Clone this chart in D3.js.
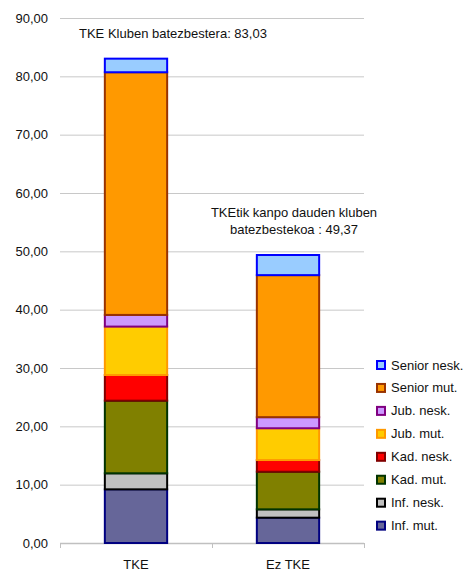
<!DOCTYPE html>
<html>
<head>
<meta charset="utf-8">
<script src="https://cdn.jsdelivr.net/npm/d3@7/dist/d3.min.js"></script>
<style>
  html, body { margin: 0; padding: 0; background: #fff; }
  svg { display: block; font-family: "Liberation Sans", Arial, sans-serif; }
</style>
</head>
<body>
<svg id="chart" width="469" height="572"></svg>
<script>
// ---- data ----
const categories = ["TKE", "Ez TKE"];
const seriesNames = ["Inf. mut.", "Inf. nesk.", "Kad. mut.", "Kad. nesk.", "Jub. mut.", "Jub. nesk.", "Senior mut.", "Senior nesk."];
const infMut     = [9.20, 4.34];
const infNesk    = [2.75, 1.43];
const kadMut     = [12.45, 6.45];
const kadNesk    = [4.40, 2.00];
const jubMut     = [8.30, 5.45];
const jubNesk    = [2.00, 1.90];
const seniorMut  = [41.60, 24.35];
const seniorNesk = [2.33, 3.45];
const yTicks = [0, 10, 20, 30, 40, 50, 60, 70, 80, 90];
const fills   = ["#666699", "#C0C0C0", "#808000", "#FF0000", "#FFCC00", "#CC99FF", "#FF9900", "#99CCFF"];
const strokes = ["#000080", "#000000", "#003300", "#800000", "#FF9900", "#800080", "#993300", "#0000FF"];
const annotation1 = ["TKE Kluben batezbestera: 83,03"];
const annotation2 = ["TKEtik kanpo dauden kluben", "batezbestekoa : 49,37"];

const seriesValues = [infMut, infNesk, kadMut, kadNesk, jubMut, jubNesk, seniorMut, seniorNesk];
const rows = categories.map((c, i) => {
  const r = { cat: c };
  seriesNames.forEach((s, j) => r[s] = seriesValues[j][i]);
  return r;
});

// ---- layout ----
const svg = d3.select("#chart");
const pLeft = 60, pRight = 364, pTop = 18, pBottom = 543;

const x = d3.scaleBand().domain(categories).range([pLeft, pRight])
  .paddingInner(0.59).paddingOuter(0.295);
const y = d3.scaleLinear().domain([0, 90]).range([pBottom, pTop]);
const fmt = v => d3.format(".2f")(v).replace(".", ",");

// gridlines + y labels
const yAxis = svg.append("g").attr("transform", `translate(${pLeft},0)`)
  .call(d3.axisLeft(y).tickValues(yTicks).tickSizeInner(-(pRight - pLeft)).tickSizeOuter(0).tickPadding(12).tickFormat(fmt));
yAxis.select(".domain").remove();
yAxis.selectAll(".tick line").attr("stroke", "#C8C8C8").attr("stroke-width", 1);
yAxis.selectAll(".tick text").attr("font-size", 13).attr("fill", "#111")
  .attr("font-family", "Liberation Sans, Arial, sans-serif");

// x axis line
const bounds = [pLeft, ...categories.map(c => x(c) + x.bandwidth() / 2 + x.step() / 2)];
svg.append("line").attr("x1", pLeft).attr("x2", pRight).attr("y1", pBottom + 0.5).attr("y2", pBottom + 0.5)
  .attr("stroke", "#C0C0C0").attr("stroke-width", 1.5);
svg.selectAll(".xt").data(bounds).enter().append("line")
  .attr("x1", d => Math.round(d) + 0.5).attr("x2", d => Math.round(d) + 0.5)
  .attr("y1", pBottom).attr("y2", pBottom + 5).attr("stroke", "#C0C0C0");

// category labels
svg.selectAll(".cat").data(categories).enter().append("text")
  .attr("x", d => x(d) + x.bandwidth() / 2).attr("y", 569)
  .attr("text-anchor", "middle").attr("font-size", 13).attr("fill", "#111").text(d => d);

// bars
const stacked = d3.stack().keys(seriesNames)(rows);
stacked.forEach((layer, j) => {
  svg.append("g").selectAll("rect").data(layer).enter().append("rect")
    .attr("x", d => x(d.data.cat))
    .attr("width", x.bandwidth())
    .attr("y", d => y(d[1]))
    .attr("height", d => y(d[0]) - y(d[1]))
    .attr("fill", fills[j]).attr("stroke", strokes[j]).attr("stroke-width", 2);
});

// annotations
svg.append("text").attr("x", 79).attr("y", 37.5).attr("font-size", 13).attr("fill", "#111")
  .text(annotation1[0]);
svg.selectAll(".ann2").data(annotation2).enter().append("text")
  .attr("x", 294).attr("y", (d, i) => 217 + i * 16.5).attr("text-anchor", "middle")
  .attr("font-size", 13).attr("fill", "#111").text(d => d);

// legend
const legendOrder = seriesNames.map((s, j) => j).reverse();
const lg = svg.append("g").selectAll("g").data(legendOrder).enter().append("g")
  .attr("transform", (d, i) => `translate(376, ${365 + i * 22.95})`);
lg.append("rect").attr("x", 1).attr("y", -4).attr("width", 8).attr("height", 8)
  .attr("fill", d => fills[d]).attr("stroke", d => strokes[d]).attr("stroke-width", 2);
lg.append("text").attr("x", 15).attr("y", 4.5).attr("font-size", 13).attr("fill", "#111")
  .text(d => seriesNames[d]);
</script>
</body>
</html>
